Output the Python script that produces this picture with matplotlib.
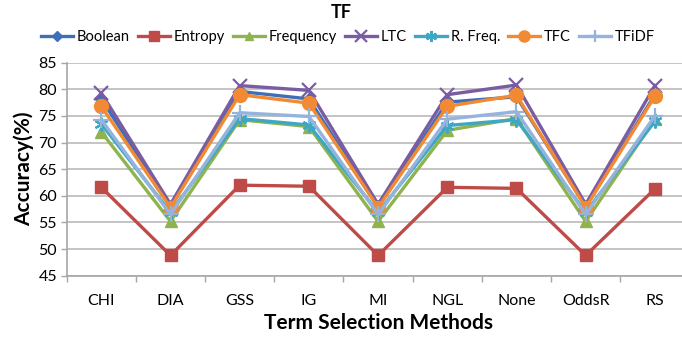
import matplotlib
matplotlib.use("Agg")
import matplotlib.pyplot as plt
import numpy as np

categories = ["CHI", "DIA", "GSS", "IG", "MI", "NGL", "None", "OddsR", "RS"]
series_names = ["Boolean", "Entropy", "Frequency", "LTC", "R. Freq.", "TFC", "TFiDF"]
boolean = [78.2, 58.0, 79.6, 78.2, 58.0, 77.6, 78.6, 58.0, 79.0]
entropy = [61.6, 48.8, 62.0, 61.8, 48.8, 61.6, 61.4, 48.8, 61.3]
frequency = [72.0, 55.2, 74.3, 73.0, 55.2, 72.3, 74.5, 55.2, 74.4]
ltc = [79.3, 58.4, 80.7, 79.8, 58.4, 79.0, 80.8, 58.4, 80.7]
rfreq = [73.5, 56.9, 74.5, 73.3, 56.9, 73.2, 74.3, 56.9, 74.0]
tfc = [76.8, 57.8, 79.0, 77.4, 57.8, 76.8, 78.9, 57.8, 78.7]
tfidf = [74.3, 56.5, 75.6, 74.9, 56.5, 74.4, 75.8, 56.5, 75.0]
yticks = [45, 50, 55, 60, 65, 70, 75, 80, 85]

values = [boolean, entropy, frequency, ltc, rfreq, tfc, tfidf]
colors = ["#3F6FB6", "#BE4B48", "#8FB34F", "#7A5CA3", "#3FA7C2", "#F18A33", "#94B4DD"]
markers = ["D", "s", "^", "x", (6, 2, 0), "o", "+"]
msizes = [6, 9, 8, 10, 10, 10, 11]

plt.rcParams['font.family'] = ['Lato', 'DejaVu Sans']

fig = plt.figure(figsize=(6.82, 3.4), dpi=100)
ax = fig.add_axes([66.7 / 682, 1 - 275.7 / 340, (689.5 - 66.7) / 682, 213 / 340])

x = np.arange(len(categories))
for name, vals, c, m, ms in zip(series_names, values, colors, markers, msizes):
    ax.plot(x, vals, color=c, lw=2.4, marker=m, markersize=ms,
            markeredgewidth=1.6 if m in ("x", "+", (6, 2, 0)) else 1.0,
            markeredgecolor=c, markerfacecolor=c, label=name, clip_on=False)

ax.set_xlim(-0.5, len(categories) - 0.5)
ax.set_ylim(45, 85)
ax.set_yticks(yticks)
ax.set_xticks(x)
ax.set_xticklabels(categories)
ax.set_xticks(np.arange(-0.5, len(categories), 1), minor=True)
ax.tick_params(axis='x', which='major', length=0, pad=13, labelsize=11.5)
ax.tick_params(axis='x', which='minor', length=4, color="#A6A6A6", width=1)
ax.tick_params(axis='y', length=4, color="#A6A6A6", width=1, labelsize=11.5, pad=3)
ax.grid(axis='y', color="#BFBFBF", lw=1.3)
ax.set_axisbelow(True)
for s in ["top", "right"]:
    ax.spines[s].set_visible(False)
for s in ["left", "bottom"]:
    ax.spines[s].set_color("#A6A6A6")
    ax.spines[s].set_linewidth(1.2)

ax.set_ylabel("Accuracy(%)", fontsize=15, fontweight='bold', labelpad=3)
ax.set_xlabel("Term Selection Methods", fontsize=15, fontweight='bold', labelpad=4)

fig.text(341 / 682, 1 - 13 / 340, "TF", ha='center', va='center', fontsize=13, fontweight='bold')
leg = fig.legend(loc='center', bbox_to_anchor=(348 / 682, 1 - 37 / 340), ncol=7, frameon=False,
                 fontsize=10.5, handlelength=2.2, columnspacing=0.55, handletextpad=0.25,
                 markerscale=0.8)

fig.savefig("out.png", dpi=100)
